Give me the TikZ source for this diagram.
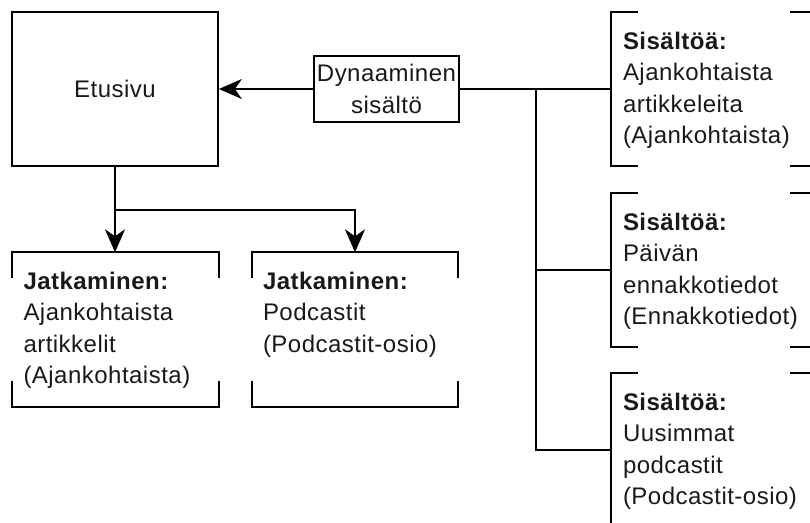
\documentclass[tikz,border=0pt]{standalone}
\usepackage{fontspec}
\setmainfont[LetterSpace=2]{Liberation Sans}
\usetikzlibrary{arrows.meta,calc}
\begin{document}
\begin{tikzpicture}[x=1pt,y=-1pt,
  every node/.style={font=\fontsize{24}{31.5}\selectfont, inner sep=0pt, text=black!90},
  plainbox/.style={draw, rectangle, line width=1.8pt},
  slot/.style={rectangle, minimum width=206pt, minimum height=154pt},
  boxtext/.style={anchor=north west, align=left},
  bracket/.style={line width=1.8pt},
  link/.style={line width=1.5pt},
  flow/.style={link, -{Stealth[length=23pt,width=20pt,inset=7pt]}}
]
\useasboundingbox (0,0) rectangle (810,522);

% main page and the dynamic content source
\node[plainbox, minimum width=206pt, minimum height=154pt] (etusivu) at (115,89) {Etusivu};
\node[plainbox, minimum width=145pt, minimum height=66pt, align=center] (dyn) at (386.5,89) {Dynaaminen\\sisältö};

% continuation slots below the main page
\node[slot] (j1) at (115.5,329.5) {};
\node[slot] (j2) at (355,329.5) {};
% content slots on the right
\node[slot] (s1) at (714,89) {};
\node[slot] (s2) at (714,270) {};
\node[slot] (s3) at (714,450) {};

% bracket outlines: full top/bottom edges with short side ticks
\foreach \b in {j1,j2}
  \draw[bracket] (\b.north west) ++(0,26) -- (\b.north west) -- (\b.north east) -- ++(0,26)
                 (\b.south west) ++(0,-26) -- (\b.south west) -- (\b.south east) -- ++(0,-26);
% bracket outlines: full side edges with short top/bottom ticks
\foreach \b in {s1,s2,s3}
  \draw[bracket] (\b.north west) ++(27,0) -- (\b.north west) -- (\b.south west) -- ++(27,0)
                 (\b.north east) ++(-27,0) -- (\b.north east) -- (\b.south east) -- ++(-27,0);

% slot texts
\node[boxtext] (j1t) at ($(j1.north west)+(11,19.5)$) {\textbf{Jatkaminen:}\\Ajankohtaista\\artikkelit\\(Ajankohtaista)};
\node[boxtext] (j2t) at ($(j2.north west)+(11,19.5)$) {\textbf{Jatkaminen:}\\Podcastit\\(Podcastit-osio)};
\node[boxtext] (s1t) at ($(s1.north west)+(12,20)$) {\textbf{Sisältöä:}\\Ajankohtaista\\artikkeleita\\(Ajankohtaista)};
\node[boxtext] (s2t) at ($(s2.north west)+(12,20)$) {\textbf{Sisältöä:}\\Päivän\\ennakkotiedot\\(Ennakkotiedot)};
\node[boxtext] (s3t) at ($(s3.north west)+(12,20)$) {\textbf{Sisältöä:}\\Uusimmat\\podcastit\\(Podcastit-osio)};

% connectors
\draw[flow] (dyn.west) -- (etusivu.east);
\draw[link] (dyn.east) -- (s1.west);
\coordinate (trunk) at (536,0);
\draw[link] (s1.west -| trunk) |- (s3.west);
\draw[link] (s2.west -| trunk) -- (s2.west);

\coordinate (split) at (115,210);
\draw[flow] (etusivu.south) -- (etusivu.south |- j1.north);
\draw[flow] (split) -| (j2.north);
\end{tikzpicture}
\end{document}
